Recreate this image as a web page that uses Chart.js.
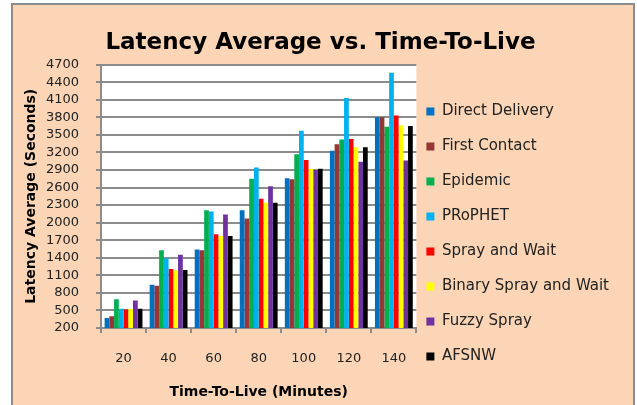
<!DOCTYPE html>
<html>
<head>
<meta charset="utf-8">
<script src="https://cdn.jsdelivr.net/npm/chart.js@4.4.1/dist/chart.umd.min.js"></script>
<style>
  html, body { margin: 0; padding: 0; background: #fff; overflow: hidden; }
  #frame { position: absolute; left: 11px; top: 3px; width: 620px; height: 420px; border: 2px solid #8c8c8c; background: #fbd5b5; }
  #under, #chart { position: absolute; left: 0; top: 0; }
</style>
</head>
<body>
<div id="frame"></div>
<canvas id="under" width="637" height="405"></canvas>
<canvas id="chart" width="637" height="405"></canvas>
<script>
// TTL en minutos
const ttl = ["20", "40", "60", "80", "100", "120", "140"];

// latencia promedio (segundos) por protocolo
const directDelivery = [370, 940, 1540, 2210, 2760, 3230, 3800];
const firstContact   = [400, 920, 1530, 2070, 2740, 3340, 3800];
const epidemic       = [690, 1530, 2210, 2750, 3170, 3420, 3640];
const prophet        = [530, 1390, 2190, 2940, 3570, 4130, 4560];
const sprayAndWait   = [515, 1210, 1800, 2410, 3070, 3430, 3830];
const binarySpray    = [525, 1185, 1770, 2340, 2920, 3290, 3660];
const fuzzySpray     = [670, 1450, 2140, 2620, 2900, 3040, 3060];
const afsnw          = [530, 1190, 1770, 2340, 2920, 3290, 3650];

const yMin = 200, yMax = 4700, yStep = 300;

Chart.defaults.font.family = "'DejaVu Sans', sans-serif";
Chart.defaults.color = "#222";

const gridColor = "#8c8c8c";

// fondo blanco y grilla en un canvas de abajo, usando las escalas del grafico
const underlay = {
  id: "underlay",
  afterLayout(chart) {
    chart.legend.left -= 10;
    chart.legend.right -= 10;
  },
  afterRender(chart) {
    const a = chart.chartArea;
    const ys = chart.scales.y;
    const xs = chart.scales.x;
    const u = document.getElementById("under").getContext("2d");
    u.clearRect(0, 0, 637, 405);
    u.fillStyle = "#ffffff";
    u.fillRect(a.left, a.top, a.right - a.left, a.bottom - a.top);
    u.fillStyle = gridColor;
    ys.ticks.forEach(t => {
      const y = Math.round(ys.getPixelForValue(t.value));
      u.fillRect(a.left - 5, y - 1, a.right - a.left + 5, 2);
    });
    for (let i = 0; i <= ttl.length; i++) {
      const x = Math.round(xs.getPixelForValue(i - 0.5));
      u.fillRect(x - 1, a.bottom, 2, 5);
    }
    u.fillRect(Math.round(a.left) - 1, Math.round(a.top) - 1, 2, a.bottom - a.top + 2);
  }
};

const chart = new Chart(document.getElementById("chart"), {
  type: "bar",
  data: {
    labels: ttl,
    datasets: [
      { label: "Direct Delivery", data: directDelivery, backgroundColor: "#0070c0" },
      { label: "First Contact", data: firstContact, backgroundColor: "#953735" },
      { label: "Epidemic", data: epidemic, backgroundColor: "#00b050" },
      { label: "PRoPHET", data: prophet, backgroundColor: "#00b0f0" },
      { label: "Spray and Wait", data: sprayAndWait, backgroundColor: "#ff0000" },
      { label: "Binary Spray and Wait", data: binarySpray, backgroundColor: "#ffff00" },
      { label: "Fuzzy Spray", data: fuzzySpray, backgroundColor: "#7030a0" },
      { label: "AFSNW", data: afsnw, backgroundColor: "#000000" }
    ]
  },
  options: {
    responsive: false,
    animation: false,
    devicePixelRatio: 1,
    layout: { padding: { left: 12, right: 8, top: 0, bottom: 0 } },
    datasets: { bar: { barPercentage: 1, categoryPercentage: 0.84, borderWidth: 0 } },
    plugins: {
      title: {
        display: true,
        text: "Latency Average vs. Time-To-Live",
        color: "#000",
        font: { size: 23, weight: "bold" },
        padding: { top: 29, bottom: 8 }
      },
      legend: {
        position: "right",
        align: "start",
        maxWidth: 240,
        title: { display: true, text: "", font: { size: 10 }, padding: { top: 72, bottom: 0 } },
        labels: {
          boxWidth: 8,
          boxHeight: 8,
          padding: 20,
          color: "#222",
          font: { size: 15 }
        }
      },
      tooltip: { enabled: false }
    },
    scales: {
      x: {
        grid: { display: false },
        border: { display: true, color: gridColor, width: 2 },
        ticks: { font: { size: 13 }, padding: 15, color: "#222" },
        title: {
          display: true,
          text: "Time-To-Live (Minutes)",
          color: "#000",
          font: { size: 14, weight: "bold" },
          padding: { top: 20, bottom: 4 }
        },
        afterFit(s) { s.height = 77; }
      },
      y: {
        min: yMin,
        max: yMax,
        ticks: {
          stepSize: yStep,
          autoSkip: false,
          font: { size: 13 },
          padding: 14,
          color: "#222",
          callback: v => String(v)
        },
        grid: { display: false },
        border: { display: false },
        title: {
          display: true,
          text: "Latency Average (Seconds)",
          color: "#000",
          font: { size: 14, weight: "bold" },
          padding: { top: 11, bottom: 0 }
        },
        afterFit(s) { s.width = 89; }
      }
    }
  },
  plugins: [underlay]
});
</script>
</body>
</html>
